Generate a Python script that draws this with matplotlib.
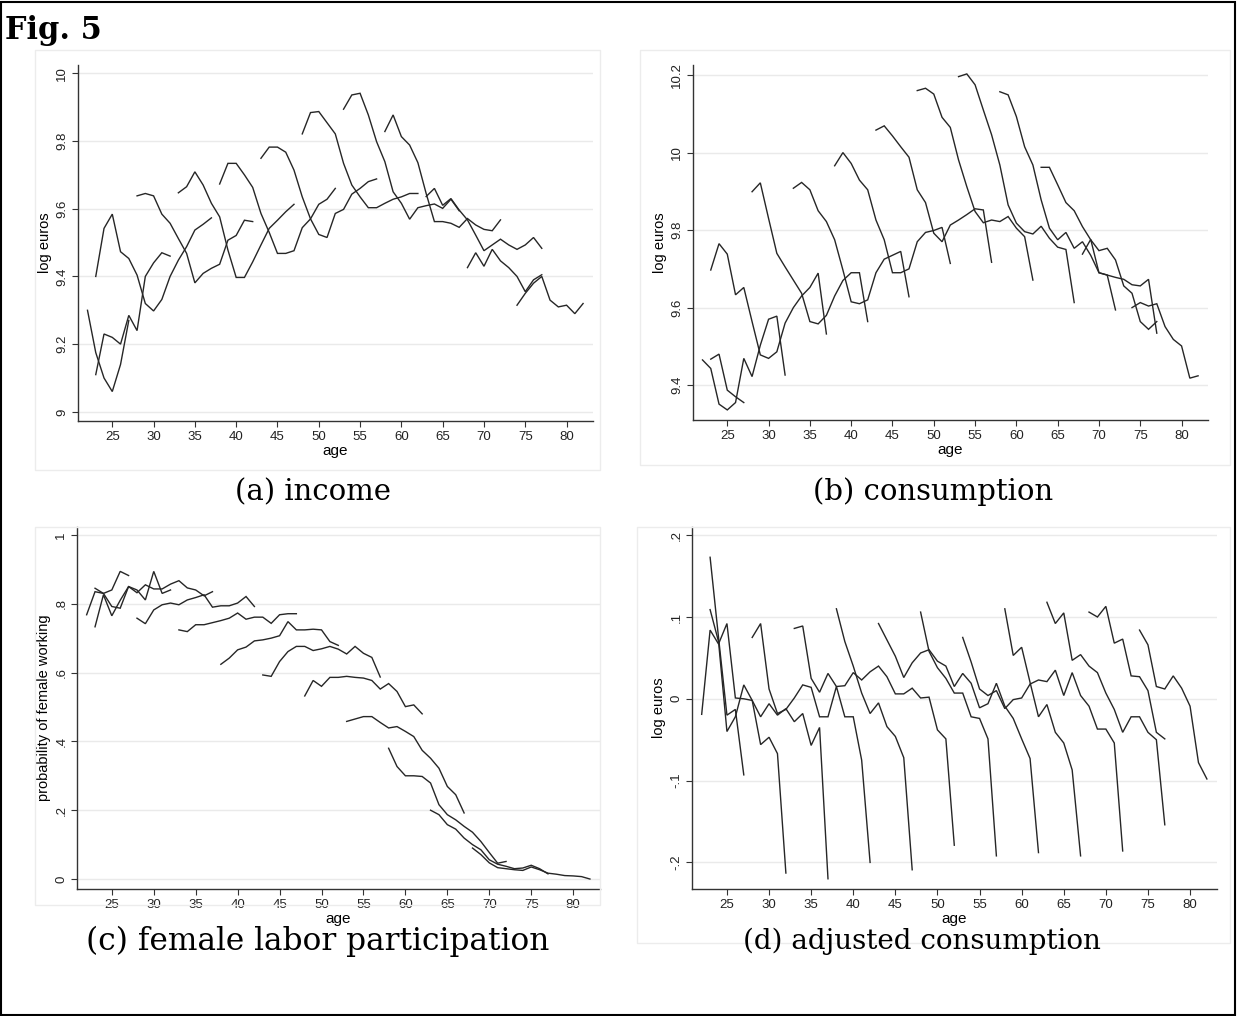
import matplotlib.pyplot as plt
from matplotlib.patches import Rectangle

# cohort profiles: (first age, values at consecutive ages)
income_lines = [
    (22, [9.30, 9.175, 9.10, 9.06, 9.14, 9.27]),
    (23, [9.11, 9.23, 9.22, 9.20, 9.285, 9.24, 9.40, 9.44, 9.47, 9.46]),
    (23, [9.40, 9.542, 9.584, 9.473, 9.453, 9.404, 9.32, 9.298, 9.332, 9.40, 9.448, 9.488, 9.537, 9.554, 9.573]),
    (28, [9.638, 9.645, 9.638, 9.584, 9.557, 9.512, 9.468, 9.381, 9.409, 9.424, 9.436, 9.507, 9.521, 9.566, 9.562]),
    (33, [9.647, 9.665, 9.709, 9.67, 9.616, 9.576, 9.478, 9.397, 9.397, 9.443, 9.493, 9.542, 9.566, 9.591, 9.613]),
    (38, [9.673, 9.734, 9.734, 9.70, 9.663, 9.586, 9.53, 9.468, 9.468, 9.476, 9.544, 9.57, 9.613, 9.628, 9.66]),
    (43, [9.749, 9.782, 9.782, 9.767, 9.714, 9.635, 9.57, 9.524, 9.515, 9.586, 9.598, 9.643, 9.66, 9.68, 9.688]),
    (48, [9.821, 9.884, 9.887, 9.854, 9.821, 9.734, 9.67, 9.635, 9.603, 9.603, 9.616, 9.628, 9.635, 9.645, 9.645]),
    (53, [9.894, 9.936, 9.941, 9.877, 9.798, 9.739, 9.65, 9.616, 9.569, 9.603, 9.609, 9.614, 9.601, 9.628, 9.594]),
    (58, [9.828, 9.877, 9.813, 9.788, 9.736, 9.645, 9.562, 9.562, 9.557, 9.545, 9.571, 9.552, 9.539, 9.535, 9.567]),
    (63, [9.636, 9.66, 9.61, 9.63, 9.596, 9.567, 9.522, 9.476, 9.493, 9.51, 9.493, 9.48, 9.493, 9.515, 9.483]),
    (68, [9.426, 9.47, 9.43, 9.48, 9.446, 9.426, 9.40, 9.355, 9.39, 9.405]),
    (74, [9.315, 9.35, 9.38, 9.40, 9.33, 9.31, 9.315, 9.29, 9.32]),
]

consumption_lines = [
    (22, [9.465, 9.443, 9.351, 9.336, 9.355, 9.469, 9.422, 9.503, 9.57, 9.578, 9.426]),
    (23, [9.467, 9.48, 9.387, 9.37, 9.355]),
    (23, [9.697, 9.765, 9.738, 9.633, 9.652, 9.564, 9.478, 9.469, 9.486, 9.56, 9.60, 9.63, 9.652, 9.689, 9.532]),
    (28, [9.899, 9.922, 9.83, 9.74, 9.705, 9.671, 9.637, 9.564, 9.558, 9.58, 9.63, 9.67, 9.69, 9.69, 9.564]),
    (33, [9.908, 9.923, 9.904, 9.85, 9.822, 9.775, 9.697, 9.615, 9.61, 9.62, 9.69, 9.725, 9.735, 9.745, 9.628]),
    (38, [9.966, 10.0, 9.972, 9.929, 9.904, 9.826, 9.775, 9.69, 9.69, 9.70, 9.77, 9.794, 9.799, 9.807, 9.714]),
    (43, [10.058, 10.069, 10.043, 10.015, 9.988, 9.904, 9.871, 9.792, 9.77, 9.813, 9.826, 9.84, 9.855, 9.852, 9.717]),
    (48, [10.16, 10.166, 10.151, 10.091, 10.065, 9.981, 9.912, 9.848, 9.819, 9.826, 9.822, 9.835, 9.805, 9.783, 9.671]),
    (53, [10.196, 10.203, 10.175, 10.11, 10.046, 9.968, 9.865, 9.818, 9.796, 9.79, 9.81, 9.779, 9.756, 9.75, 9.613]),
    (58, [10.157, 10.149, 10.093, 10.015, 9.968, 9.878, 9.805, 9.775, 9.794, 9.753, 9.77, 9.735, 9.69, 9.684, 9.594]),
    (63, [9.962, 9.962, 9.917, 9.871, 9.85, 9.809, 9.775, 9.747, 9.753, 9.723, 9.656, 9.637, 9.564, 9.544, 9.564]),
    (68, [9.738, 9.776, 9.69, 9.684, 9.678, 9.673, 9.659, 9.656, 9.673, 9.534]),
    (74, [9.60, 9.613, 9.604, 9.61, 9.551, 9.518, 9.501, 9.418, 9.424]),
]

labor_lines = [
    (22, [0.768, 0.835, 0.83, 0.84, 0.894, 0.882]),
    (23, [0.733, 0.826, 0.765, 0.81, 0.85, 0.84, 0.811, 0.894, 0.83, 0.84]),
    (23, [0.845, 0.83, 0.792, 0.787, 0.85, 0.832, 0.855, 0.843, 0.843, 0.857, 0.867, 0.846, 0.84, 0.823, 0.835]),
    (28, [0.758, 0.742, 0.782, 0.797, 0.802, 0.797, 0.811, 0.818, 0.826, 0.79, 0.794, 0.794, 0.802, 0.821, 0.792]),
    (33, [0.724, 0.719, 0.739, 0.739, 0.745, 0.751, 0.758, 0.773, 0.755, 0.761, 0.761, 0.743, 0.768, 0.771, 0.771]),
    (38, [0.624, 0.642, 0.666, 0.674, 0.692, 0.695, 0.70, 0.707, 0.748, 0.724, 0.724, 0.726, 0.724, 0.69, 0.679]),
    (43, [0.593, 0.589, 0.632, 0.661, 0.676, 0.676, 0.664, 0.669, 0.676, 0.668, 0.654, 0.676, 0.656, 0.644, 0.587]),
    (48, [0.532, 0.577, 0.56, 0.586, 0.586, 0.589, 0.586, 0.584, 0.577, 0.552, 0.568, 0.545, 0.501, 0.506, 0.48]),
    (53, [0.458, 0.465, 0.472, 0.472, 0.455, 0.439, 0.443, 0.429, 0.414, 0.374, 0.351, 0.322, 0.269, 0.245, 0.192]),
    (58, [0.38, 0.327, 0.30, 0.30, 0.298, 0.279, 0.216, 0.187, 0.172, 0.153, 0.136, 0.109, 0.077, 0.046, 0.051]),
    (63, [0.20, 0.187, 0.158, 0.145, 0.119, 0.10, 0.085, 0.056, 0.043, 0.037, 0.03, 0.032, 0.04, 0.03, 0.015]),
    (68, [0.09, 0.071, 0.047, 0.033, 0.03, 0.027, 0.025, 0.035, 0.027, 0.017, 0.014, 0.01, 0.009, 0.007, 0.0]),
]

adjusted_lines = [
    (22, [-0.019, 0.084, 0.067, 0.092, 0.001, 0.0, -0.002, -0.056, -0.047, -0.067, -0.213]),
    (23, [0.173, 0.075, -0.02, -0.013, -0.093]),
    (23, [0.109, 0.07, -0.04, -0.022, 0.017, -0.002, -0.022, -0.006, -0.02, -0.012, -0.028, -0.018, -0.057, -0.035, -0.22]),
    (28, [0.075, 0.092, 0.012, -0.018, -0.013, 0.001, 0.017, 0.014, -0.022, -0.022, 0.015, -0.022, -0.022, -0.075, -0.20]),
    (33, [0.086, 0.089, 0.025, 0.008, 0.031, 0.015, 0.016, 0.032, 0.023, 0.033, 0.04, 0.027, 0.006, 0.006, 0.013,
          0.001, 0.002, -0.038, -0.049, -0.179]),
    (38, [0.11, 0.07, 0.04, 0.007, -0.018, -0.005, -0.034, -0.046, -0.072, -0.209]),
    (43, [0.092, 0.072, 0.052, 0.026, 0.044, 0.056, 0.06, 0.046, 0.04, 0.015, 0.031, 0.019, -0.011, -0.006, 0.019,
          -0.009, -0.024, -0.049, -0.073, -0.188]),
    (48, [0.106, 0.058, 0.038, 0.025, 0.007, 0.007, -0.022, -0.024, -0.049, -0.192]),
    (53, [0.075, 0.045, 0.012, 0.004, 0.01, -0.012, -0.001, 0.001, 0.018, 0.023, 0.021, 0.035, 0.004, 0.032, 0.004,
          -0.009, -0.037, -0.037, -0.054, -0.186]),
    (58, [0.11, 0.053, 0.063, 0.02, -0.022, -0.007, -0.041, -0.054, -0.087, -0.192]),
    (63, [0.118, 0.092, 0.105, 0.047, 0.054, 0.04, 0.032, 0.007, -0.013, -0.041, -0.022, -0.022, -0.041, -0.05, -0.154]),
    (68, [0.106, 0.10, 0.113, 0.068, 0.073, 0.028, 0.027, 0.01, -0.041, -0.049]),
    (74, [0.084, 0.066, 0.015, 0.012, 0.028, 0.013, -0.009, -0.078, -0.098]),
]

age_ticks = [25, 30, 35, 40, 45, 50, 55, 60, 65, 70, 75, 80]

plt.rcParams['font.family'] = ['Liberation Sans', 'DejaVu Sans']
W, H = 1237, 1016
fig = plt.figure(figsize=(W / 100, H / 100), dpi=100)


def px_rect(x0, y0, x1, y1):
    # pixel box (top-left origin) -> figure fraction rect
    return [x0 / W, 1 - y1 / H, (x1 - x0) / W, (y1 - y0) / H]


def panel(box, lines, yticks, ylabels, ylim, ylabel, frame, caption, cap_xy, cap_size):
    fig.patches.append(Rectangle((frame[0] / W, 1 - frame[3] / H), (frame[2] - frame[0]) / W,
                                 (frame[3] - frame[1]) / H, transform=fig.transFigure,
                                 fill=False, edgecolor='#ececec', lw=1.0))
    ax = fig.add_axes(px_rect(*box))
    for start, vals in lines:
        ax.plot(range(start, start + len(vals)), vals, color='#262626', lw=1.0,
                solid_joinstyle='miter')
    ax.set_xlim(20.85, 83.2)
    ax.set_ylim(*ylim)
    ax.set_xticks(age_ticks)
    ax.set_yticks(yticks)
    ax.set_yticklabels(ylabels, rotation=90, va='center')
    for y in yticks:
        ax.axhline(y, color='#eaeaea', lw=1.0, zorder=0)
    for s in ['top', 'right']:
        ax.spines[s].set_visible(False)
    for s in ['left', 'bottom']:
        ax.spines[s].set_color('#333333')
        ax.spines[s].set_linewidth(1.0)
    ax.tick_params(length=4, width=0.8, color='#333333', labelsize=9.5, labelcolor='#222222', pad=3)
    ax.set_xlabel('age', fontsize=11, labelpad=1)
    ax.set_ylabel(ylabel, fontsize=10.5, labelpad=3)
    fig.text(cap_xy[0] / W, 1 - cap_xy[1] / H, caption, family='DejaVu Serif', fontsize=cap_size,
             ha='center', va='center')
    return ax


panel((78, 65, 593, 421), income_lines, [9, 9.2, 9.4, 9.6, 9.8, 10],
      ['9', '9.2', '9.4', '9.6', '9.8', '10'], (8.973, 10.0245), 'log euros',
      (35, 50, 600, 470), '(a) income', (313, 492), 21)
panel((693, 65, 1208, 420), consumption_lines, [9.4, 9.6, 9.8, 10, 10.2],
      ['9.4', '9.6', '9.8', '10', '10.2'], (9.31, 10.226), 'log euros',
      (640, 50, 1230, 465), '(b) consumption', (933, 492), 21)
panel((77, 527, 600, 889), labor_lines, [0, 0.2, 0.4, 0.6, 0.8, 1],
      ['0', '.2', '.4', '.6', '.8', '1'], (-0.029, 1.023), 'probability of female working',
      (35, 527, 600, 905), '(c) female labor participation', (318, 941), 22.5)
panel((692, 527, 1217, 889), adjusted_lines, [-0.2, -0.1, 0, 0.1, 0.2],
      ['-.2', '-.1', '0', '.1', '.2'], (-0.2325, 0.21), 'log euros',
      (637, 527, 1230, 943), '(d) adjusted consumption', (922, 941), 20)

fig.text(5 / W, 1 - 31 / H, 'Fig. 5', family='DejaVu Serif', fontweight='bold', fontsize=22,
         ha='left', va='center')
fig.patches.append(Rectangle((0.001, 0.001), 0.997, 0.997, transform=fig.transFigure,
                             fill=False, edgecolor='black', lw=1.5))

fig.savefig('out.png', dpi=100)
